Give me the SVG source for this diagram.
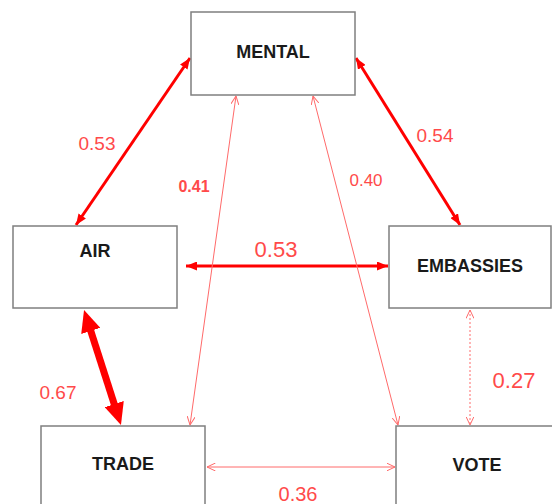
<svg xmlns="http://www.w3.org/2000/svg" width="552" height="504" viewBox="0 0 552 504">
<style>
.box{fill:#fff;stroke:#7f7f7f;stroke-width:1.5}
.nt{font-family:"Liberation Sans",Arial,sans-serif;font-weight:bold;font-size:18px;fill:#1a1a1a;text-anchor:middle}
.lb{font-family:"Liberation Sans",Arial,sans-serif;fill:#ff4a4a;text-anchor:middle}
.thick{stroke:#ff0000;fill:none}
.thin{stroke:#ff6a6a;stroke-width:1;fill:none}
</style>
<defs>
<marker id="mh" viewBox="0 0 11 9" refX="11" refY="4.5" markerWidth="11" markerHeight="9" markerUnits="userSpaceOnUse" orient="auto-start-reverse">
<path d="M0,0 L11,4.5 L0,9 z" fill="#ff0000"/>
</marker>
<marker id="bh" viewBox="0 0 22 20" refX="10" refY="10" markerWidth="22" markerHeight="20" markerUnits="userSpaceOnUse" orient="auto-start-reverse">
<path d="M0,0 L22,10 L0,20 z" fill="#ff0000"/>
</marker>
<marker id="oh" viewBox="0 0 9 8" refX="8.5" refY="4" markerWidth="9" markerHeight="8" markerUnits="userSpaceOnUse" orient="auto-start-reverse">
<path d="M0,0 L8.5,4 L0,8" fill="none" stroke="#ff6a6a" stroke-width="1"/>
</marker>
</defs>
<g id="connectors">
<line class="thick" stroke-width="3" x1="190" y1="58" x2="76" y2="225" marker-start="url(#mh)" marker-end="url(#mh)"/>
<line class="thick" stroke-width="3" x1="356" y1="58" x2="460" y2="225" marker-start="url(#mh)" marker-end="url(#mh)"/>
<line class="thick" stroke-width="3" x1="186" y1="266" x2="388" y2="266" marker-start="url(#mh)" marker-end="url(#mh)"/>
<line class="thick" stroke-width="7" x1="87.7" y1="321.4" x2="117.3" y2="413.6" marker-start="url(#bh)" marker-end="url(#bh)"/>
<line class="thin" x1="236" y1="96" x2="190" y2="425" marker-start="url(#oh)" marker-end="url(#oh)"/>
<line class="thin" x1="313" y1="96" x2="398" y2="425" marker-start="url(#oh)" marker-end="url(#oh)"/>
<line class="thin" stroke-dasharray="2,2" x1="470" y1="310" x2="470" y2="425" marker-start="url(#oh)" marker-end="url(#oh)"/>
<line class="thin" x1="207" y1="467" x2="395" y2="467" marker-start="url(#oh)" marker-end="url(#oh)"/>
</g>
<g id="MENTAL"><rect class="box" x="191" y="12" width="164" height="83"/><text class="nt" x="273" y="58">MENTAL</text></g>
<g id="AIR"><rect class="box" x="13" y="226" width="164" height="82"/><text class="nt" x="95" y="257">AIR</text></g>
<g id="EMBASSIES"><rect class="box" x="389" y="226" width="162" height="82"/><text class="nt" x="470" y="272">EMBASSIES</text></g>
<g id="TRADE"><rect class="box" x="41" y="426" width="164" height="90"/><text class="nt" x="123" y="470">TRADE</text></g>
<g id="VOTE"><rect class="box" x="396" y="426" width="164" height="90"/><text class="nt" x="477" y="471">VOTE</text></g>
<g id="labels">
<text class="lb" x="97" y="150" font-size="19">0.53</text>
<text class="lb" x="194" y="192" font-size="16" font-weight="bold">0.41</text>
<text class="lb" x="366" y="186" font-size="17">0.40</text>
<text class="lb" x="435" y="142" font-size="19">0.54</text>
<text class="lb" x="276" y="257" font-size="22">0.53</text>
<text class="lb" x="58" y="399" font-size="19">0.67</text>
<text class="lb" x="514" y="388" font-size="22">0.27</text>
<text class="lb" x="298" y="501" font-size="20">0.36</text>
</g>
</svg>
